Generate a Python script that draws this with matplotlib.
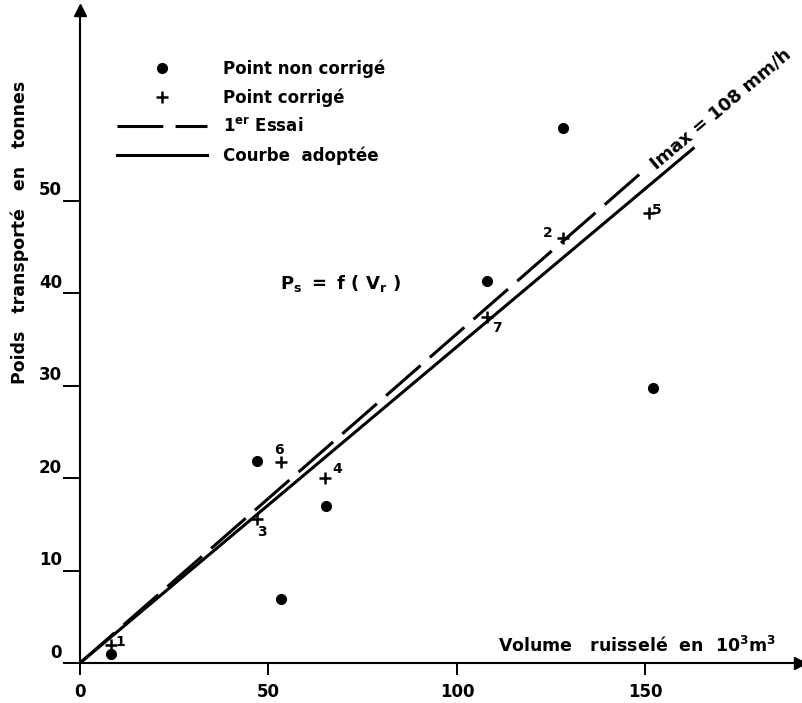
import math

import matplotlib
matplotlib.use("Agg")
import matplotlib.pyplot as plt
from matplotlib.lines import Line2D
from matplotlib.transforms import ScaledTranslation

# uncorrected measurements (volume in 10^3 m3, load in tonnes)
raw_volume = [8.2, 47.0, 53.3, 65.3, 108.0, 128.0, 152.0]
raw_weight = [1.0, 21.8, 6.9, 17.0, 41.3, 57.8, 29.7]

# corrected measurements, numbered by event
corr_id = ["1", "2", "3", "4", "5", "6", "7"]
corr_volume = [8.2, 128.0, 47.0, 65.0, 151.0, 53.3, 108.0]
corr_weight = [2.0, 45.9, 15.6, 20.0, 48.6, 21.7, 37.4]

# fitted lines through the origin: Ps = a * Vr
first_try_slope = 0.356
first_try_end = 150.4
adopted_slope = 0.342
adopted_end = 163.0

x_ticks = [0, 50, 100, 150]
y_ticks = [0, 10, 20, 30, 40, 50]

plt.rcParams["font.family"] = ["DejaVu Sans"]
plt.rcParams["font.weight"] = "bold"
plt.rcParams["font.size"] = 12

W, H = 803, 703
fig = plt.figure(figsize=(W / 100, H / 100), dpi=100)
# origin sits at pixel (80, 663); the arrows run to the right/top edges
ax = fig.add_axes([80 / W, (H - 663) / H, 720 / W, 653 / H])
ax.set_xlim(0, 191)
ax.set_ylim(0, 70.6)

for side in ("top", "right"):
    ax.spines[side].set_visible(False)
for side in ("left", "bottom"):
    ax.spines[side].set_linewidth(1.5)

# arrow heads at the ends of both axes
ax.plot(1, 0, marker=">", color="k", markersize=9,
        transform=ax.get_yaxis_transform(), clip_on=False)
ax.plot(0, 1, marker="^", color="k", markersize=9,
        transform=ax.get_xaxis_transform(), clip_on=False)

ax.set_xticks(x_ticks)
ax.set_yticks(y_ticks)
ax.tick_params(axis="x", direction="out", length=8.5, width=1.4, pad=6,
               labelsize=12)
ax.tick_params(axis="y", direction="out", length=12, width=1.4, pad=1,
               labelsize=12)
ax.set_xticklabels([str(v) for v in x_ticks])
ax.set_yticklabels([str(v) for v in y_ticks])
# y labels sit just above their tick marks
lift = ScaledTranslation(0, 1 / 72, fig.dpi_scale_trans)
for lab in ax.get_yticklabels():
    lab.set_verticalalignment("bottom")
    lab.set_transform(lab.get_transform() + lift)

fig.text(20 / W, 1 - 232 / H, "Poids   transporté   en   tonnes", rotation=90,
         ha="center", va="center", fontsize=12.5)
fig.text(776 / W, 1 - 646 / H,
         r"Volume   ruisselé  en  10$^{\mathregular{3}}$m$^{\mathregular{3}}$",
         ha="right", va="center", fontsize=12.5)

dash = (0, (15, 4))
ax.plot([0, first_try_end], [0, first_try_slope * first_try_end],
        color="k", lw=2.2, linestyle=dash, solid_capstyle="butt")
ax.plot([0, adopted_end], [0, adopted_slope * adopted_end],
        color="k", lw=2.2, solid_capstyle="butt")

ax.plot(raw_volume, raw_weight, "o", color="k", markersize=7, clip_on=False)
ax.plot(corr_volume, corr_weight, "+", color="k", markersize=9, mew=1.8,
        clip_on=False)

# event numbers next to the corrected points
label_offset = {"1": (9, 3), "2": (-15, 5), "3": (5, -13), "4": (12, 9),
                "5": (8, 3), "6": (-2, 12), "7": (10, -11)}
for pid, vx, vy in zip(corr_id, corr_volume, corr_weight):
    dx, dy = label_offset[pid]
    ax.annotate(pid, (vx, vy), xytext=(dx, dy), textcoords="offset pixels",
                ha="center", va="center", fontsize=10)

# intensity note written along the fitted line
fig.canvas.draw()
p0 = ax.transData.transform((0, 0))
p1 = ax.transData.transform((adopted_end, adopted_slope * adopted_end))
angle = math.degrees(math.atan2(p1[1] - p0[1], p1[0] - p0[0]))
ax.text(153.5, 53.0, "Imax = 108 mm/h", rotation=angle, rotation_mode="anchor",
        ha="left", va="bottom", fontsize=13)

ax.text(53, 41, r"$\mathregular{P_s\ =\ f\ (\ V_r\ )}$", ha="left",
        va="center", fontsize=13)

handles = [
    Line2D([], [], marker="o", color="k", linestyle="none", markersize=7),
    Line2D([], [], marker="+", color="k", linestyle="none", markersize=9,
           mew=1.8),
    Line2D([], [], color="k", lw=2.2, linestyle=dash),
    Line2D([], [], color="k", lw=2.2),
]
labels = ["Point non corrigé", "Point corrigé",
          r"1$^{\mathregular{er}}$ Essai", "Courbe  adoptée"]
ax.legend(handles, labels, loc="upper left",
          bbox_to_anchor=(30 / 720, 1 - 43 / 653),
          frameon=False, handlelength=5.4, handletextpad=1.0,
          labelspacing=0.62, borderaxespad=0, fontsize=12)

fig.savefig("out.png", dpi=100, facecolor="white")
